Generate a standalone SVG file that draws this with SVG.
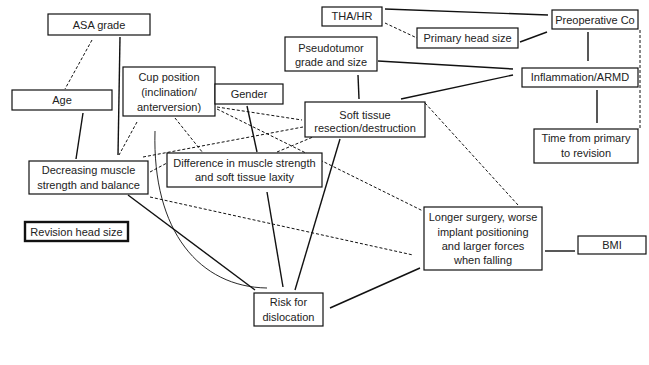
<svg xmlns="http://www.w3.org/2000/svg" width="649" height="365" viewBox="0 0 649 365">
<style>
.box{fill:#fff;stroke:#111;stroke-width:1.2}
.thick{stroke-width:2.4}
text{font-family:"Liberation Sans",Arial,sans-serif;font-size:11px;fill:#222;text-anchor:middle}
.s{fill:none;stroke:#111;stroke-width:1.4}
.t{fill:none;stroke:#111;stroke-width:0.9}
.d{fill:none;stroke:#111;stroke-width:1;stroke-dasharray:3 2}
</style>
<rect width="649" height="365" fill="#fff"/>
<g id="connectors">
<line class="s" x1="120" y1="37" x2="118" y2="155"/>
<line class="s" x1="83" y1="113" x2="76" y2="159"/>
<line class="s" x1="247" y1="106" x2="257" y2="152"/>
<line class="s" x1="128" y1="195" x2="255" y2="290"/>
<path class="t" d="M155,131 C152,232 200,287 267,288"/>
<line class="s" x1="267" y1="192" x2="283" y2="287"/>
<line class="s" x1="340" y1="139" x2="295" y2="290"/>
<line class="s" x1="330" y1="308" x2="420" y2="268"/>
<line class="s" x1="545" y1="251" x2="575" y2="251"/>
<line class="s" x1="358" y1="75" x2="359" y2="99"/>
<line class="s" x1="401" y1="99" x2="513" y2="75"/>
<line class="s" x1="378" y1="61" x2="513" y2="69"/>
<line class="s" x1="385" y1="9" x2="548" y2="15"/>
<line class="s" x1="520" y1="42" x2="547" y2="32"/>
<line class="s" x1="588" y1="32" x2="588" y2="61"/>
<line class="s" x1="597" y1="90" x2="597" y2="123"/>
<line class="d" x1="92" y1="40" x2="65" y2="89"/>
<line class="d" x1="137" y1="122" x2="119" y2="155"/>
<line class="d" x1="175" y1="118" x2="203" y2="153"/>
<line class="d" x1="217" y1="107" x2="302" y2="120"/>
<line class="d" x1="217" y1="109" x2="423" y2="211"/>
<line class="d" x1="143" y1="157" x2="303" y2="127"/>
<line class="d" x1="277" y1="152" x2="313" y2="137"/>
<line class="d" x1="150" y1="172" x2="167" y2="163"/>
<line class="d" x1="150" y1="197" x2="413" y2="255"/>
<line class="d" x1="425" y1="103" x2="518" y2="205"/>
<line class="d" x1="385" y1="23" x2="417" y2="38"/>
<polyline class="d" points="640,30 640,128 638,129"/>
</g>
<g id="asa"><rect class="box" x="48" y="14" width="102" height="21"/><text x="99" y="29">ASA grade</text></g>
<g id="age"><rect class="box" x="12" y="90" width="100" height="20"/><text x="62" y="104">Age</text></g>
<g id="cup"><rect class="box" x="123" y="67" width="92" height="49"/><text x="169" y="81">Cup position</text><text x="169" y="96">(inclination/</text><text x="169" y="111">anterversion)</text></g>
<g id="gender"><rect class="box" x="215" y="84" width="68" height="20"/><text x="249" y="98">Gender</text></g>
<g id="decreasing"><rect class="box" x="29" y="161" width="119" height="33"/><text x="88.5" y="174">Decreasing muscle</text><text x="88.5" y="189">strength and balance</text></g>
<g id="difference"><rect class="box" x="167" y="153" width="155" height="34"/><text x="244.5" y="167">Difference in muscle strength</text><text x="244.5" y="181">and soft tissue laxity</text></g>
<g id="soft"><rect class="box" x="305" y="102" width="120" height="35"/><text x="365" y="119">Soft tissue</text><text x="365" y="132">resection/destruction</text></g>
<g id="thahr"><rect class="box" x="322" y="7" width="60" height="19"/><text x="352" y="20">THA/HR</text></g>
<g id="primary"><rect class="box" x="417" y="28" width="101" height="20"/><text x="467.5" y="42">Primary head size</text></g>
<g id="preop"><rect class="box" x="552" y="10" width="86" height="19"/><text x="595" y="24">Preoperative Co</text></g>
<g id="pseudo"><rect class="box" x="285" y="37" width="92" height="34"/><text x="331" y="52">Pseudotumor</text><text x="331" y="66">grade and size</text></g>
<g id="inflam"><rect class="box" x="522" y="68" width="116" height="19"/><text x="580" y="81">Inflammation/ARMD</text></g>
<g id="time"><rect class="box" x="534" y="129" width="104" height="34"/><text x="586" y="142">Time from primary</text><text x="586" y="157">to revision</text></g>
<g id="longer"><rect class="box" x="424" y="207" width="118" height="63"/><text x="483" y="221">Longer surgery, worse</text><text x="483" y="236">implant positioning</text><text x="483" y="250">and larger forces</text><text x="483" y="264">when falling</text></g>
<g id="bmi"><rect class="box" x="578" y="236" width="68" height="18"/><text x="612" y="249">BMI</text></g>
<g id="risk"><rect class="box" x="254" y="293" width="69" height="33"/><text x="288.5" y="306">Risk for</text><text x="288.5" y="321">dislocation</text></g>
<g id="revision"><rect class="box thick" x="25" y="222" width="103" height="19"/><text x="76.5" y="236">Revision head size</text></g>
</svg>
